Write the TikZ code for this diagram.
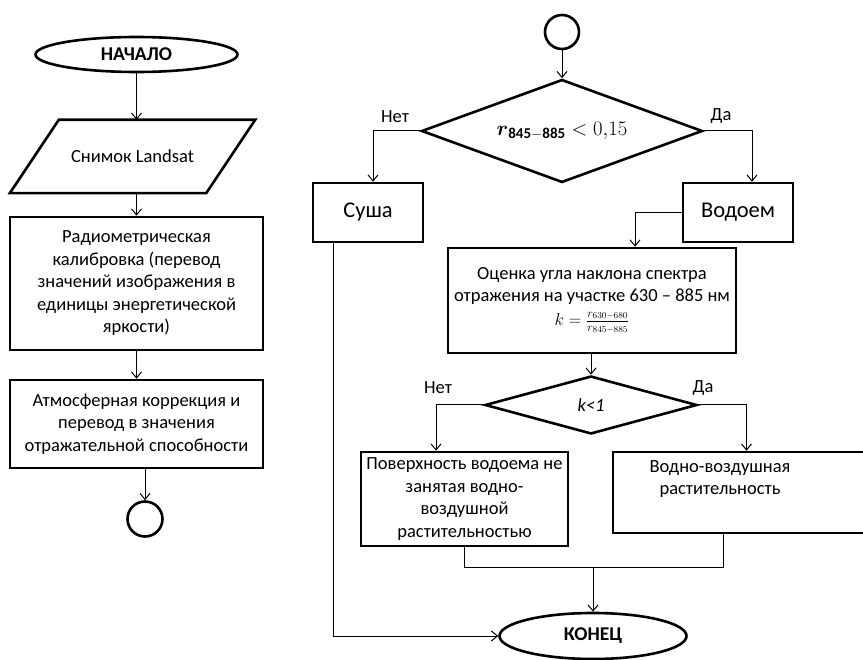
\documentclass[tikz,border=0pt]{standalone}
\usepackage{amsmath}
\usepackage{amssymb}
\usepackage{fontspec}
\setmainfont{Carlito}
\usetikzlibrary{shapes.geometric,arrows.meta}

\begin{document}
\begin{tikzpicture}[x=10pt,y=10pt]
\tikzstyle{every node}+=[inner sep=0pt,font=\fontsize{18.5}{22.5}\selectfont]
\tikzstyle{blk}=[draw=black,line width=2.6pt]
\tikzstyle{term}=[blk,ellipse,font=\fontsize{19.5}{22}\selectfont\bfseries]
\tikzstyle{proc}=[blk,rectangle,align=center]
\tikzstyle{ask}=[blk,diamond,aspect=2.8]
\tikzstyle{joint}=[blk,circle,minimum size=35pt]
\tikzstyle{link}=[draw=black,line width=1pt]
\tikzstyle{flow}=[link,-{Straight Barb[length=6pt,width=10pt]}]
\useasboundingbox (0,0) rectangle (86.3,-66);
% left column
\node [term,minimum width=202pt,minimum height=35pt] (start) at (13.65,-5.45) {НАЧАЛО};
\node [minimum width=245pt,minimum height=73pt] (img) at (13.25,-15.65) {Снимок Landsat};
\draw [blk] (img.south west) -- ([xshift=-49pt]img.south east) -- (img.north east) -- ([xshift=49pt]img.north west) -- cycle;
\node [proc,minimum width=253pt,minimum height=133pt] (calib) at (13.65,-28.35) {Радиометрическая\\калибровка (перевод\\значений изображения в\\единицы энергетической\\яркости)};
\node [proc,minimum width=253pt,minimum height=88pt] (atm) at (13.65,-42.4) {Атмосферная коррекция и\\перевод в значения\\отражательной способности};
\node [joint] (endA) at (14.5,-51.9) {};
\draw [flow] (start.south) -- (start.south |- img.north);
\draw [flow] (start.south |- img.south) -- (calib.north);
\draw [flow] (calib) -- (atm);
\draw [flow] (atm.south -| endA.north) -- (endA.north);
% right column
\node [joint,minimum size=34pt] (topC) at (56.2,-3.2) {};
\node [ask,minimum width=281pt,minimum height=103pt,font=\fontsize{21.5}{24}\selectfont] (dec1) at (56.2,-13.1) {$\boldsymbol{r}_{\mathbf{845-885}} < 0{,}15$};
\node (no1) at (39.5,-11.7) {Нет};
\node (yes1) at (72.1,-11.6) {Да};
\node [proc,minimum width=110pt,minimum height=59pt,font=\fontsize{22.5}{24}\selectfont] (land) at (36.8,-21.25) {Суша};
\node [proc,minimum width=110pt,minimum height=59pt,font=\fontsize{22.5}{24}\selectfont] (water) at (73.8,-21.25) {Водоем};
\node [proc,minimum width=288pt,minimum height=105pt] (slope) at (59.2,-30.05) {Оценка угла наклона спектра\\отражения на участке 630 – 885 нм\\[1pt]$k=\frac{r_{630-680}}{r_{845-885}}$};
\node [ask,aspect=3.6,minimum width=212pt,minimum height=58pt] (dec2) at (59.1,-40.5) {\textit{k<1}};
\node (no2) at (43.8,-38.8) {Нет};
\node (yes2) at (70.3,-38.8) {Да};
\node [proc,minimum width=207pt,minimum height=94pt] (box3) at (46.45,-49.9) {Поверхность водоема не\\занятая водно-\\воздушной\\растительностью};
\node [proc,minimum width=267pt,minimum height=81pt] (box4) at (74.65,-49.25) {};
\node [align=center] (veg) at (72,-47.9) {Водно-воздушная\\растительность};
\node [term,minimum width=187pt,minimum height=46pt] (stop) at (59.3,-63.6) {КОНЕЦ};
\coordinate (join) at (59.3,-56.7);
\draw [flow] (topC) -- (dec1);
\draw [flow] (dec1.west) -| ([xshift=5pt]land.north);
\draw [flow] (dec1.east) -| ([xshift=14pt]water.north);
\draw [flow] (water.west) -| ([xshift=43pt]slope.north);
\draw [flow] (slope.south -| dec2.north) -- (dec2.north);
\draw [flow] (dec2.west) -| ([xshift=-28.5pt]box3.north);
\draw [flow] (dec2.east) -| (box4.north);
\draw [link] (box3.south) |- (join);
\draw [link] ([xshift=-23.5pt]box4.south) |- (join);
\draw [flow] (join) -- (stop.north);
\draw [flow] ([xshift=-35pt]land.south) |- (stop.west);
\end{tikzpicture}
\end{document}
